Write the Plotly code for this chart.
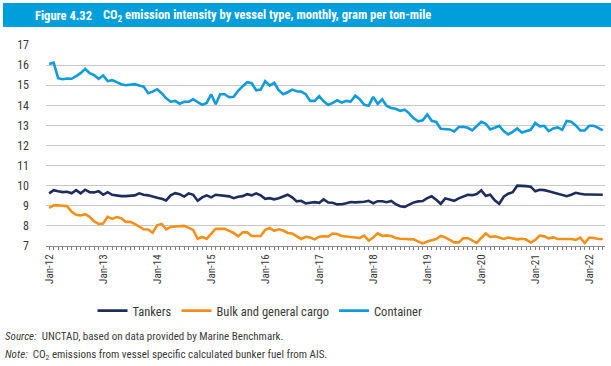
import plotly.graph_objects as go

MONTH_NAMES = ["Jan", "Feb", "Mar", "Apr", "May", "Jun", "Jul", "Aug", "Sep", "Oct", "Nov", "Dec"]
YEARS = list(range(12, 23))
months = [f"{m}-{y:02d}" for y in YEARS for m in MONTH_NAMES][:124]  # Jan-12 .. Apr-22

tankers = [
    9.62, 9.78, 9.72, 9.68, 9.70, 9.62, 9.78, 9.62, 9.80, 9.68, 9.66, 9.73,
    9.55, 9.68, 9.55, 9.50, 9.48, 9.48, 9.50, 9.52, 9.62, 9.55, 9.52, 9.45,
    9.40, 9.35, 9.27, 9.52, 9.63, 9.58, 9.46, 9.62, 9.55, 9.25, 9.42, 9.52,
    9.42, 9.55, 9.52, 9.52, 9.47, 9.38, 9.45, 9.48, 9.58, 9.52, 9.62, 9.52,
    9.35, 9.38, 9.32, 9.38, 9.48, 9.55, 9.42, 9.22, 9.25, 9.12, 9.15, 9.18,
    9.15, 9.32, 9.16, 9.15, 9.07, 9.08, 9.13, 9.19, 9.17, 9.18, 9.20, 9.25,
    9.13, 9.23, 9.23, 9.18, 9.24, 9.08, 8.98, 8.95, 9.05, 9.17, 9.22, 9.24,
    9.38, 9.47, 9.30, 9.10, 9.37, 9.30, 9.25, 9.37, 9.47, 9.55, 9.53, 9.58,
    9.77, 9.50, 9.55, 9.27, 9.10, 9.45, 9.60, 9.68, 10.00, 10.00, 9.98, 9.95,
    9.72, 9.80, 9.78, 9.72, 9.66, 9.60, 9.55, 9.48, 9.55, 9.65, 9.60, 9.56,
    9.56, 9.56, 9.56, 9.55,
]

bulk = [
    8.90, 9.02, 9.03, 9.02, 8.98, 8.70, 8.55, 8.52, 8.58, 8.45, 8.22, 8.10,
    8.12, 8.45, 8.35, 8.44, 8.38, 8.20, 8.20, 8.10, 7.96, 7.83, 7.82, 7.66,
    8.03, 8.10, 7.83, 7.95, 7.97, 7.97, 8.00, 7.90, 7.80, 7.36, 7.45, 7.35,
    7.60, 7.86, 7.85, 7.85, 7.75, 7.65, 7.48, 7.68, 7.68, 7.50, 7.50, 7.50,
    7.80, 7.90, 7.75, 7.83, 7.77, 7.65, 7.62, 7.48, 7.35, 7.46, 7.42, 7.33,
    7.46, 7.48, 7.47, 7.62, 7.60, 7.50, 7.47, 7.43, 7.40, 7.40, 7.52, 7.27,
    7.42, 7.63, 7.50, 7.53, 7.50, 7.40, 7.36, 7.36, 7.35, 7.33, 7.22, 7.13,
    7.22, 7.30, 7.35, 7.50, 7.43, 7.30, 7.18, 7.18, 7.38, 7.40, 7.30, 7.16,
    7.40, 7.62, 7.45, 7.48, 7.42, 7.35, 7.42, 7.38, 7.33, 7.36, 7.32, 7.17,
    7.30, 7.52, 7.48, 7.38, 7.43, 7.35, 7.35, 7.35, 7.35, 7.30, 7.42, 7.15,
    7.42, 7.40, 7.35, 7.35,
]

container = [
    16.05, 16.12, 15.35, 15.30, 15.33, 15.32, 15.45, 15.60, 15.82, 15.60, 15.50, 15.32,
    15.48, 15.20, 15.25, 15.15, 15.05, 15.00, 15.03, 15.05, 14.98, 14.93, 14.60, 14.68,
    14.80, 14.60, 14.35, 14.18, 14.22, 14.08, 14.17, 14.18, 14.30, 14.18, 14.02, 14.12,
    14.55, 14.05, 14.55, 14.55, 14.40, 14.42, 14.72, 14.95, 15.15, 15.10, 14.75, 14.78,
    15.20, 14.98, 15.12, 14.75, 14.55, 14.65, 14.78, 14.70, 14.68, 14.55, 14.22, 14.22,
    14.45, 14.20, 14.02, 14.12, 14.25, 14.13, 14.22, 14.18, 14.48, 14.30, 14.02, 13.98,
    14.42, 14.07, 14.30, 13.97, 13.87, 13.83, 13.72, 13.78, 13.60, 13.35, 13.20, 13.25,
    13.55, 13.23, 13.17, 12.83, 12.80, 12.80, 12.70, 12.92, 12.93, 12.88, 12.75, 12.98,
    13.18, 13.08, 12.80, 12.88, 12.98, 12.72, 12.55, 12.68, 12.85, 12.65, 12.70, 12.78,
    13.12, 12.95, 12.98, 12.72, 12.85, 12.90, 12.78, 13.22, 13.18, 13.00, 12.75, 12.75,
    12.98, 12.98, 12.88, 12.75,
]

series_names = ["Tankers", "Bulk and general cargo", "Container"]
series_values = [tankers, bulk, container]
series_colors = ["#1F2D5C", "#F39019", "#129BD8"]

y_ticks = list(range(7, 18))
x_ticktext = [m if m.startswith("Jan") else "" for m in months]

FONT = "Liberation Sans Narrow, Roboto Condensed, Roboto, Arial, sans-serif"
TEXT_COLOR = "#3A3A3A"

# layout geometry (pixels)
W, H = 611, 366
L, R, T, B = 46, 6, 45, 120
PW, PH = W - L - R, H - T - B


def px(xp):
    return (xp - L) / PW


def py(yp):
    return (H - B - yp) / PH


fig = go.Figure()
for name, vals, col in zip(series_names, series_values, series_colors):
    fig.add_trace(go.Scatter(
        x=months, y=vals, name=name, mode="lines",
        line=dict(color=col, width=2.6),
    ))

fig.update_layout(
    width=W, height=H,
    margin=dict(l=L, r=R, t=T, b=B, autoexpand=False),
    paper_bgcolor="white", plot_bgcolor="white",
    font=dict(family=FONT, color=TEXT_COLOR, size=11),
    showlegend=True,
    legend=dict(
        orientation="h",
        x=px(260), xanchor="center", y=py(311), yanchor="middle",
        font=dict(size=12.5, color=TEXT_COLOR), itemwidth=30,
    ),
    xaxis=dict(
        type="category", range=[-0.7, 123.5],
        tickmode="array", tickvals=months, ticktext=x_ticktext,
        tickangle=-90, ticks="outside", ticklen=3, tickcolor="#7F7F7F",
        showline=True, linecolor="#8C8C8C", linewidth=1,
        showgrid=False, zeroline=False,
        tickfont=dict(size=11, color=TEXT_COLOR),
    ),
    yaxis=dict(
        range=[7, 17], tickvals=y_ticks, showgrid=True,
        gridcolor="#C8C8C8", gridwidth=1, zeroline=False, showline=False,
        ticks="", ticklabelstandoff=16,
        tickfont=dict(size=12, color=TEXT_COLOR),
    ),
)

fig.add_shape(type="rect", xref="paper", yref="paper",
              x0=px(3), x1=px(W + 2), y0=py(27), y1=py(3),
              fillcolor="#009EDB", line_width=0, layer="above")

fig.add_annotation(xref="paper", yref="paper", x=px(33), y=py(15),
                   xanchor="left", yanchor="middle", showarrow=False,
                   text="<b>Figure 4.32</b>",
                   font=dict(size=12.5, color="white", family=FONT))
fig.add_annotation(xref="paper", yref="paper", x=px(101), y=py(15),
                   xanchor="left", yanchor="middle", showarrow=False,
                   text="<b>CO<sub>2</sub> emission intensity by vessel type, monthly, gram per ton-mile</b>",
                   font=dict(size=12.5, color="white", family=FONT))

fig.add_annotation(xref="paper", yref="paper", x=px(3), y=py(336),
                   xanchor="left", yanchor="middle", showarrow=False,
                   text="<i>Source:</i>  UNCTAD, based on data provided by Marine Benchmark.",
                   font=dict(size=11, color=TEXT_COLOR, family=FONT))
fig.add_annotation(xref="paper", yref="paper", x=px(3), y=py(355),
                   xanchor="left", yanchor="middle", showarrow=False,
                   text="<i>Note:</i>  CO<sub>2</sub> emissions from vessel specific calculated bunker fuel from AIS.",
                   font=dict(size=11, color=TEXT_COLOR, family=FONT))

fig.write_html(
    "out.html",
    config={"displayModeBar": False},
    post_script="document.body.style.margin='0';document.body.style.overflow='hidden';",
)
